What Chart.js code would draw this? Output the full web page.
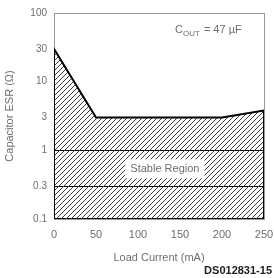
<!DOCTYPE html>
<html>
<head>
<meta charset="utf-8">
<script src="https://cdn.jsdelivr.net/npm/chart.js@4/dist/chart.umd.min.js"></script>
<style>
  html, body { margin: 0; padding: 0; background: #fff; }
  #wrap { width: 274px; height: 278px; position: relative; }
</style>
</head>
<body>
<div id="wrap"><canvas id="esr-chart"></canvas></div>
<script>
// stable region boundary
var loadCurrent = [0, 50, 200, 250];
var esrUpper = [30, 3, 3, 3.8];
var esrLower = [0.1, 0.1, 0.1, 0.1];
var esrTicks = [0.1, 0.3, 1, 3, 10, 30, 100];
var currentTicks = [0, 50, 100, 150, 200, 250];
var gridValues = [1, 0.3];

var textGrey = '#6e6e6e';
var last = loadCurrent.length - 1;

// outline: up the left side, along the upper curve, down the right side
var outline = [];
outline.push({ x: loadCurrent[0], y: esrLower[0] });
for (var i = 0; i < loadCurrent.length; i++) {
    outline.push({ x: loadCurrent[i], y: esrUpper[i] });
}
outline.push({ x: loadCurrent[last], y: esrLower[last] });

// bottom edge of the region
var bottomEdge = loadCurrent.map(function(x, k) { return { x: x, y: esrLower[k] }; });

// diagonal hatch
function makeHatch() {
    var c = document.createElement('canvas');
    c.width = 5;
    c.height = 5;
    var g = c.getContext('2d');
    g.strokeStyle = '#3a3a3a';
    g.lineWidth = 1;
    g.beginPath();
    g.moveTo(-1, 6);
    g.lineTo(6, -1);
    g.stroke();
    return g.createPattern(c, 'repeat');
}

var extras = {
    id: 'extras',
    beforeDatasetsDraw: function(chart) {
        var a = chart.chartArea;
        var ctx = chart.ctx;
        ctx.save();
        ctx.strokeStyle = '#9a9a9a';
        ctx.lineWidth = 1;
        ctx.strokeRect(a.left + 0.5, a.top + 0.5, a.right - a.left, a.bottom - a.top);
        ctx.restore();
    },
    afterDatasetsDraw: function(chart) {
        var ctx = chart.ctx;
        var a = chart.chartArea;
        var xs = chart.scales.x, ys = chart.scales.y;
        ctx.save();

        // Stable Region label between the 1 and 0.3 lines
        var cy = ys.getPixelForValue(Math.sqrt(0.3 * 1));
        var cx = xs.getPixelForValue(132);
        ctx.font = '11px "Liberation Sans", Arial, sans-serif';
        var label = 'Stable Region';
        var w = ctx.measureText(label).width;
        ctx.fillStyle = '#fff';
        ctx.fillRect(cx - w / 2 - 5, cy - 9, w + 10, 19);
        ctx.fillStyle = textGrey;
        ctx.textAlign = 'center';
        ctx.textBaseline = 'middle';
        ctx.fillText(label, cx, cy + 1);

        // C_OUT note
        ctx.textAlign = 'left';
        ctx.textBaseline = 'alphabetic';
        var tx = a.right - 89, ty = a.top + 20;
        ctx.font = '11px "Liberation Sans", Arial, sans-serif';
        ctx.fillText('C', tx, ty);
        var cw = ctx.measureText('C').width;
        ctx.font = '8px "Liberation Sans", Arial, sans-serif';
        ctx.fillText('OUT', tx + cw, ty + 3);
        var ow = ctx.measureText('OUT').width;
        ctx.font = '11px "Liberation Sans", Arial, sans-serif';
        ctx.fillText(' = 47 \u00b5F', tx + cw + ow + 1, ty);

        ctx.restore();
    },
    afterDraw: function(chart) {
        var ctx = chart.ctx;
        ctx.save();
        ctx.font = 'bold 11px "Liberation Sans", Arial, sans-serif';
        ctx.fillStyle = '#222';
        ctx.textAlign = 'right';
        ctx.textBaseline = 'middle';
        ctx.fillText('DS012831-15', 272, 271);
        ctx.restore();
    }
};

new Chart(document.getElementById('esr-chart'), {
    type: 'scatter',
    data: {
        datasets: [
            {
                data: outline,
                showLine: true,
                fill: 'start',
                backgroundColor: makeHatch(),
                borderColor: '#000',
                borderWidth: 2,
                pointRadius: 0,
                tension: 0
            },
            {
                data: bottomEdge,
                showLine: true,
                fill: false,
                borderColor: '#000',
                borderWidth: 2,
                pointRadius: 0,
                tension: 0
            }
        ]
    },
    options: {
        responsive: true,
        maintainAspectRatio: false,
        animation: false,
        layout: { padding: { top: 11, right: 0, left: 0, bottom: 0 } },
        plugins: {
            legend: { display: false },
            tooltip: { enabled: false }
        },
        scales: {
            x: {
                type: 'linear',
                min: 0,
                max: 250,
                afterFit: function(scale) {
                    scale.height = 59;
                    scale.paddingRight = 10;
                    scale.paddingLeft = 0;
                },
                afterBuildTicks: function(scale) {
                    scale.ticks = currentTicks.map(function(v) { return { value: v }; });
                },
                grid: { display: false, drawTicks: false },
                border: { display: false },
                ticks: {
                    color: textGrey,
                    padding: 9,
                    maxRotation: 0,
                    font: { family: '"Liberation Sans", Arial, sans-serif', size: 11 }
                },
                title: {
                    display: true,
                    text: 'Load Current (mA)',
                    color: textGrey,
                    padding: { top: 8, bottom: 13 },
                    font: { family: '"Liberation Sans", Arial, sans-serif', size: 11 }
                }
            },
            y: {
                type: 'logarithmic',
                min: 0.1,
                max: 100,
                z: 1,
                afterFit: function(scale) { scale.width = 54; },
                afterBuildTicks: function(scale) {
                    scale.ticks = esrTicks.map(function(v) { return { value: v }; });
                },
                grid: {
                    drawTicks: false,
                    lineWidth: 1,
                    color: function(ctx) {
                        if (ctx.tick && gridValues.indexOf(ctx.tick.value) >= 0) return '#000';
                        return 'rgba(0,0,0,0)';
                    }
                },
                border: { display: false },
                ticks: {
                    color: textGrey,
                    padding: 7,
                    font: { family: '"Liberation Sans", Arial, sans-serif', size: 10 },
                    callback: function(v) { return String(v); }
                },
                title: {
                    display: true,
                    text: 'Capacitor ESR (\u03a9)',
                    color: textGrey,
                    padding: { top: 3, bottom: 4 },
                    font: { family: '"Liberation Sans", Arial, sans-serif', size: 11 }
                }
            }
        }
    },
    plugins: [extras]
});
</script>
</body>
</html>
